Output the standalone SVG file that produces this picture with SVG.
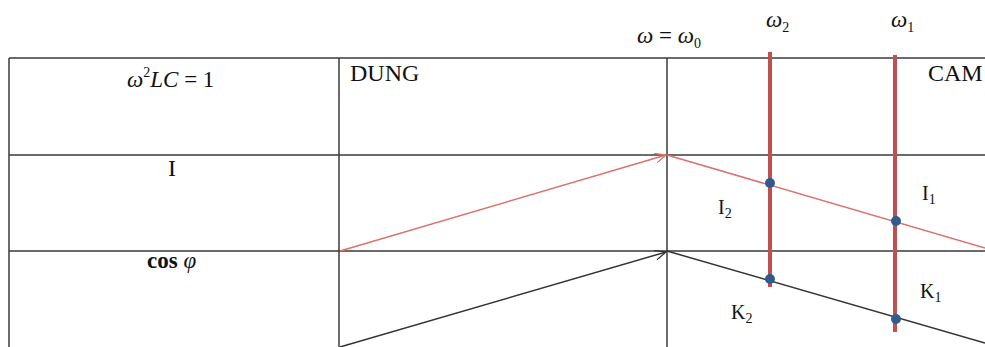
<svg xmlns="http://www.w3.org/2000/svg" width="985" height="347" viewBox="0 0 985 347">
<defs>
<style>
.grid{stroke:#3a3a3a;stroke-width:1.5;fill:none}
.t{font-family:"Liberation Serif","Times New Roman",serif;font-size:23px;fill:#111}
.s{font-size:20px}
.h{font-size:24px}
.it{font-style:italic}
.redv{stroke:#c0504d;stroke-width:4}
.dot{fill:#2f5b8f}
</style>
<marker id="ar" viewBox="0 0 12 10" refX="11" refY="5" markerWidth="12" markerHeight="10" markerUnits="userSpaceOnUse" orient="auto"><path d="M0,0 L11,5 L0,10" fill="none" stroke="#d9736f" stroke-width="1.3"/></marker>
<marker id="ab" viewBox="0 0 12 10" refX="11" refY="5" markerWidth="12" markerHeight="10" markerUnits="userSpaceOnUse" orient="auto"><path d="M0,0 L11,5 L0,10" fill="none" stroke="#333" stroke-width="1.3"/></marker>
</defs>
<rect width="985" height="347" fill="#fff"/>
<g id="table">
<line class="grid" x1="9" y1="58" x2="985" y2="58" stroke-width="2"/>
<line class="grid" x1="9" y1="155" x2="985" y2="155"/>
<line class="grid" x1="9" y1="251" x2="985" y2="251"/>
<line class="grid" x1="9" y1="58" x2="9" y2="347"/>
<line class="grid" x1="339" y1="58" x2="339" y2="347"/>
<line class="grid" x1="667" y1="58" x2="667" y2="347"/>
</g>
<g id="headers">
<text class="t" x="127" y="87"><tspan class="it">ω</tspan><tspan font-size="14" dy="-10">2</tspan><tspan class="it" dy="10">LC</tspan> = 1</text>
<text class="t h" x="350" y="81">DUNG</text>
<text class="t h" x="928" y="81">CAM</text>
<text class="t h" x="168" y="176">I</text>
<text class="t" x="147" y="268" font-weight="bold">cos <tspan class="it" font-weight="normal">φ</tspan></text>
<text class="t" x="637" y="43"><tspan class="it">ω</tspan> = <tspan class="it">ω</tspan><tspan font-size="14" dy="5">0</tspan></text>
<text class="t" x="766" y="27"><tspan class="it">ω</tspan><tspan font-size="14" dy="5">2</tspan></text>
<text class="t" x="891" y="27"><tspan class="it">ω</tspan><tspan font-size="14" dy="5">1</tspan></text>
</g>
<g id="connectors">
<line x1="340" y1="251" x2="666" y2="155" stroke="#d9736f" stroke-width="1.5" marker-end="url(#ar)"/>
<line x1="667" y1="155" x2="985" y2="248" stroke="#d9736f" stroke-width="1.5"/>
<line x1="340" y1="347" x2="666" y2="252" stroke="#333" stroke-width="1.5" marker-end="url(#ab)"/>
<line x1="667" y1="251" x2="985" y2="343" stroke="#333" stroke-width="1.5"/>
<line class="redv" x1="770" y1="52" x2="770" y2="287"/>
<line class="redv" x1="895" y1="55" x2="895" y2="332"/>
</g>
<g id="points">
<circle class="dot" cx="770" cy="183" r="5"/>
<circle class="dot" cx="896" cy="221" r="5"/>
<circle class="dot" cx="770" cy="279" r="5"/>
<circle class="dot" cx="896" cy="319" r="5"/>
</g>
<g id="labels">
<text class="t s" x="718" y="214">I<tspan font-size="14" dy="4">2</tspan></text>
<text class="t s" x="922" y="200">I<tspan font-size="14" dy="4">1</tspan></text>
<text class="t s" x="731" y="319">K<tspan font-size="14" dy="4">2</tspan></text>
<text class="t s" x="920" y="298">K<tspan font-size="14" dy="4">1</tspan></text>
</g>
</svg>
